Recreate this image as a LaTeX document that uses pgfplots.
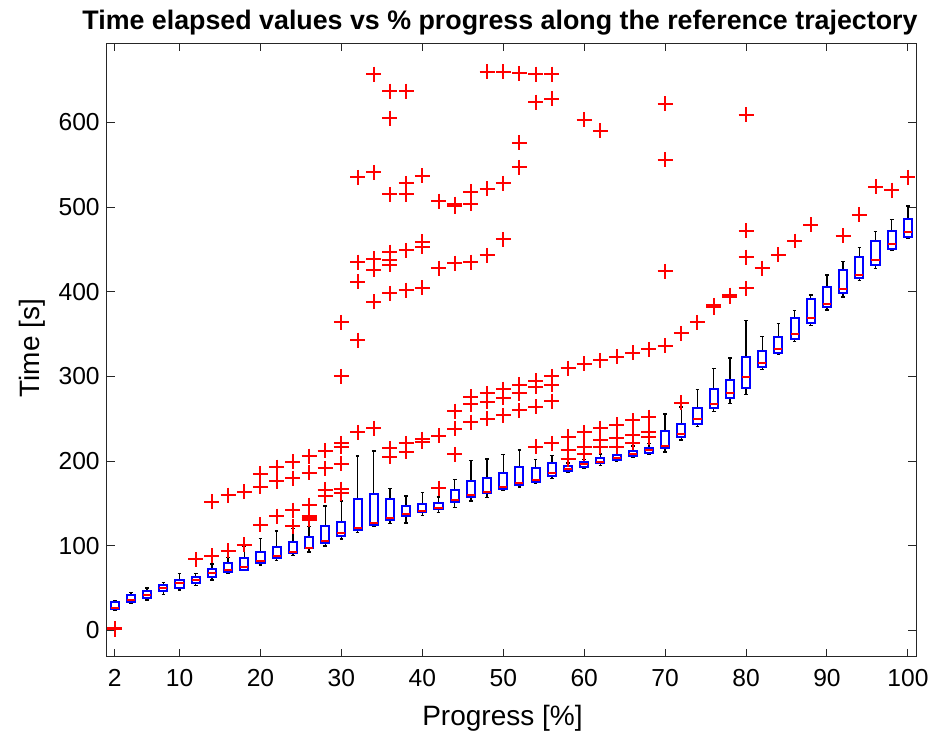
\documentclass[border=0pt]{standalone}
\usepackage{pgfplots}
\pgfplotsset{compat=1.18}
\usepgfplotslibrary{statistics}
\usepackage{fontspec}
\setmainfont{Liberation Sans}
% position, lower whisker, q1, median, q3, upper whisker
\newcommand\bx[6]{\addplot[blue, line width=1pt, boxplot/draw direction=y, boxplot prepared={draw position=#1, lower whisker=#2, lower quartile=#3, median=#4, upper quartile=#5, upper whisker=#6, box extend=1.0, whisker extend=0.45}] coordinates {};}
\begin{document}
\begin{tikzpicture}
\begin{axis}[
  at={(0,0)}, anchor=south west,
  scale only axis, width=404.7pt, height=306.7pt,
  xmin=1, xmax=101, ymin=-30.9, ymax=693.5,
  xtick={2,10,20,30,40,50,60,70,80,90,100},
  ytick={0,100,200,300,400,500,600},
  tick align=inside,
  major tick length=4pt,
  axis line style={black!85, line width=0.5pt},
  every tick/.style={black!85, line width=0.5pt},
  ticklabel style={font=\fontsize{12.3}{14}\selectfont},
  xticklabel style={yshift=-3pt},
  /pgf/number format/assume math mode=true,
  boxplot/draw direction=y,
  boxplot/every whisker/.style={black, line width=0.7pt},
  boxplot/every median/.style={red, line width=1pt},
  every axis title shift=0pt,
  title={Time elapsed values vs \% progress along the reference trajectory},
  title style={font=\fontsize{13.4}{15}\selectfont\bfseries, at={(axis description cs:0.486,1.034)}, anchor=center, yshift=0pt},
  xlabel={Progress [\%]},
  xlabel style={font=\fontsize{14}{16}\selectfont, at={(axis description cs:0.489,-0.1)}, anchor=center},
  ylabel={Time [s]},
  ylabel style={font=\fontsize{14}{16}\selectfont, at={(axis description cs:-0.0922,0.503)}, anchor=center},
]
\bx{2}{23.4}{25}{26.5}{33.6}{35.7}
\bx{4}{32}{34}{36}{41.5}{45}
\bx{6}{36}{38.7}{42}{47}{50}
\bx{8}{42.3}{46.3}{49.8}{53.4}{57}
\bx{10}{47.8}{50.5}{55.7}{59.6}{67.5}
\bx{12}{52.9}{55.7}{59.3}{63.5}{67.5}
\bx{14}{59.6}{62.8}{67.5}{72.2}{78.5}
\bx{16}{67.5}{69.4}{71.4}{79.3}{86.4}
\bx{18}{70.6}{71.4}{75.3}{85.2}{99.8}
\bx{20}{77.3}{79.3}{82.4}{92.3}{108.8}
\bx{22}{82.4}{86}{88}{99}{117.5}
\bx{24}{88.3}{91}{92.7}{104}{120.6}
\bx{26}{92.7}{97}{97.8}{110}{122.5}
\bx{28}{99.8}{103}{106}{123.4}{147}
\bx{30}{108}{111.6}{114.8}{128.5}{153}
\bx{32}{116}{118.7}{120.6}{155}{206}
\bx{34}{122.5}{124.6}{127}{161}{212}
\bx{36}{126.6}{130.5}{132.5}{155}{168}
\bx{38}{127}{135}{137}{147}{159}
\bx{40}{135.5}{139.5}{141}{149}{163}
\bx{42}{139}{143}{145}{150}{157.6}
\bx{44}{145.5}{151.5}{154}{166}{178}
\bx{46}{153}{157.3}{160}{176.5}{200.5}
\bx{48}{157.3}{162}{164}{180.4}{202.5}
\bx{50}{165}{166.7}{169}{186.5}{208}
\bx{52}{169.4}{171.4}{173.8}{192.7}{213}
\bx{54}{173.8}{175.7}{177.7}{191.5}{202}
\bx{56}{179.7}{182.4}{186.3}{197.4}{206.8}
\bx{58}{186.3}{188.7}{190.7}{194.2}{198}
\bx{60}{191.5}{193.4}{196.2}{199}{202}
\bx{62}{194.6}{197.4}{199.3}{203.3}{208.4}
\bx{64}{200}{201.3}{204}{206.8}{208}
\bx{66}{204.5}{206.4}{209}{212}{218}
\bx{68}{208.4}{210}{213}{215.8}{221}
\bx{70}{211}{215}{218}{235.5}{255.6}
\bx{72}{225}{228.8}{231.6}{243.8}{264}
\bx{74}{240.6}{243.4}{249.7}{262.3}{284.8}
\bx{76}{258.3}{262.3}{267.8}{284.8}{309.6}
\bx{78}{268}{274}{280}{295.7}{322}
\bx{80}{279}{286}{299}{323.3}{365.8}
\bx{82}{308.4}{311.5}{315.5}{330.4}{347}
\bx{84}{326.5}{327.3}{333}{347}{362.7}
\bx{86}{341}{343.8}{350}{368.6}{377.6}
\bx{88}{359.9}{362.7}{368.6}{391.7}{396}
\bx{90}{378.4}{381.6}{385.5}{406}{419.7}
\bx{92}{394}{398}{402.8}{425.6}{436}
\bx{94}{413}{415.8}{420}{441.3}{452.4}
\bx{96}{427.6}{431.5}{437.4}{460.2}{470.9}
\bx{98}{449.2}{450.4}{456.3}{472}{485.5}
\bx{100}{463}{465}{470.9}{485.8}{501.5}
\addplot[only marks, mark=+, red, mark size=3.75pt, mark options={line width=1pt, solid}] coordinates {
(2,1.5) (2,2.5)
(12,84)
(14,88) (14,152)
(16,94) (16,160)
(18,101) (18,164)
(20,125) (20,170) (20,185)
(22,135) (22,176) (22,193)
(24,123) (24,142) (24,180) (24,199)
(26,131) (26,133) (26,135) (26,148) (26,186) (26,206)
(28,159) (28,166) (28,191.5) (28,212)
(30,162) (30,167) (30,197) (30,217) (30,221) (30,300) (30,364)
(32,234) (32,343) (32,412) (32,435) (32,535)
(34,239) (34,388) (34,426) (34,439) (34,541) (34,657)
(36,205) (36,215) (36,398) (36,432) (36,437) (36,447) (36,515) (36,605) (36,637)
(38,211) (38,221) (38,402) (38,449) (38,515) (38,528) (38,637)
(40,223) (40,226) (40,405) (40,453) (40,459) (40,537)
(42,168) (42,230) (42,428) (42,507)
(44,208) (44,238) (44,259) (44,434) (44,501) (44,503.5)
(46,246) (46,267) (46,276) (46,435) (46,504) (46,518)
(48,250) (48,270) (48,280) (48,443) (48,522) (48,660)
(50,254) (50,275) (50,285) (50,462) (50,528) (50,660)
(52,260) (52,280) (52,290) (52,547) (52,576) (52,658)
(54,217) (54,264) (54,288) (54,295) (54,624) (54,657)
(56,221) (56,271) (56,290) (56,300) (56,628) (56,657)
(58,202) (58,213) (58,229) (58,310)
(60,209) (60,217) (60,234) (60,315) (60,603)
(62,217) (62,225) (62,239) (62,319) (62,590)
(64,217) (64,227) (64,243) (64,323)
(66,222) (66,231) (66,248) (66,328)
(68,228) (68,235) (68,252) (68,332)
(70,336) (70,424) (70,556) (70,622)
(72,269) (72,351)
(74,364)
(76,382) (76,384)
(78,394) (78,396)
(80,404) (80,441) (80,472) (80,609)
(82,428)
(84,444)
(86,460)
(88,479)
(92,466)
(94,491)
(96,524)
(98,520)
(100,535)
};
\end{axis}
\pgfresetboundingbox
\useasboundingbox (-53.35pt,-39.65pt) rectangle (412.2pt,328.35pt);
\end{tikzpicture}
\end{document}
